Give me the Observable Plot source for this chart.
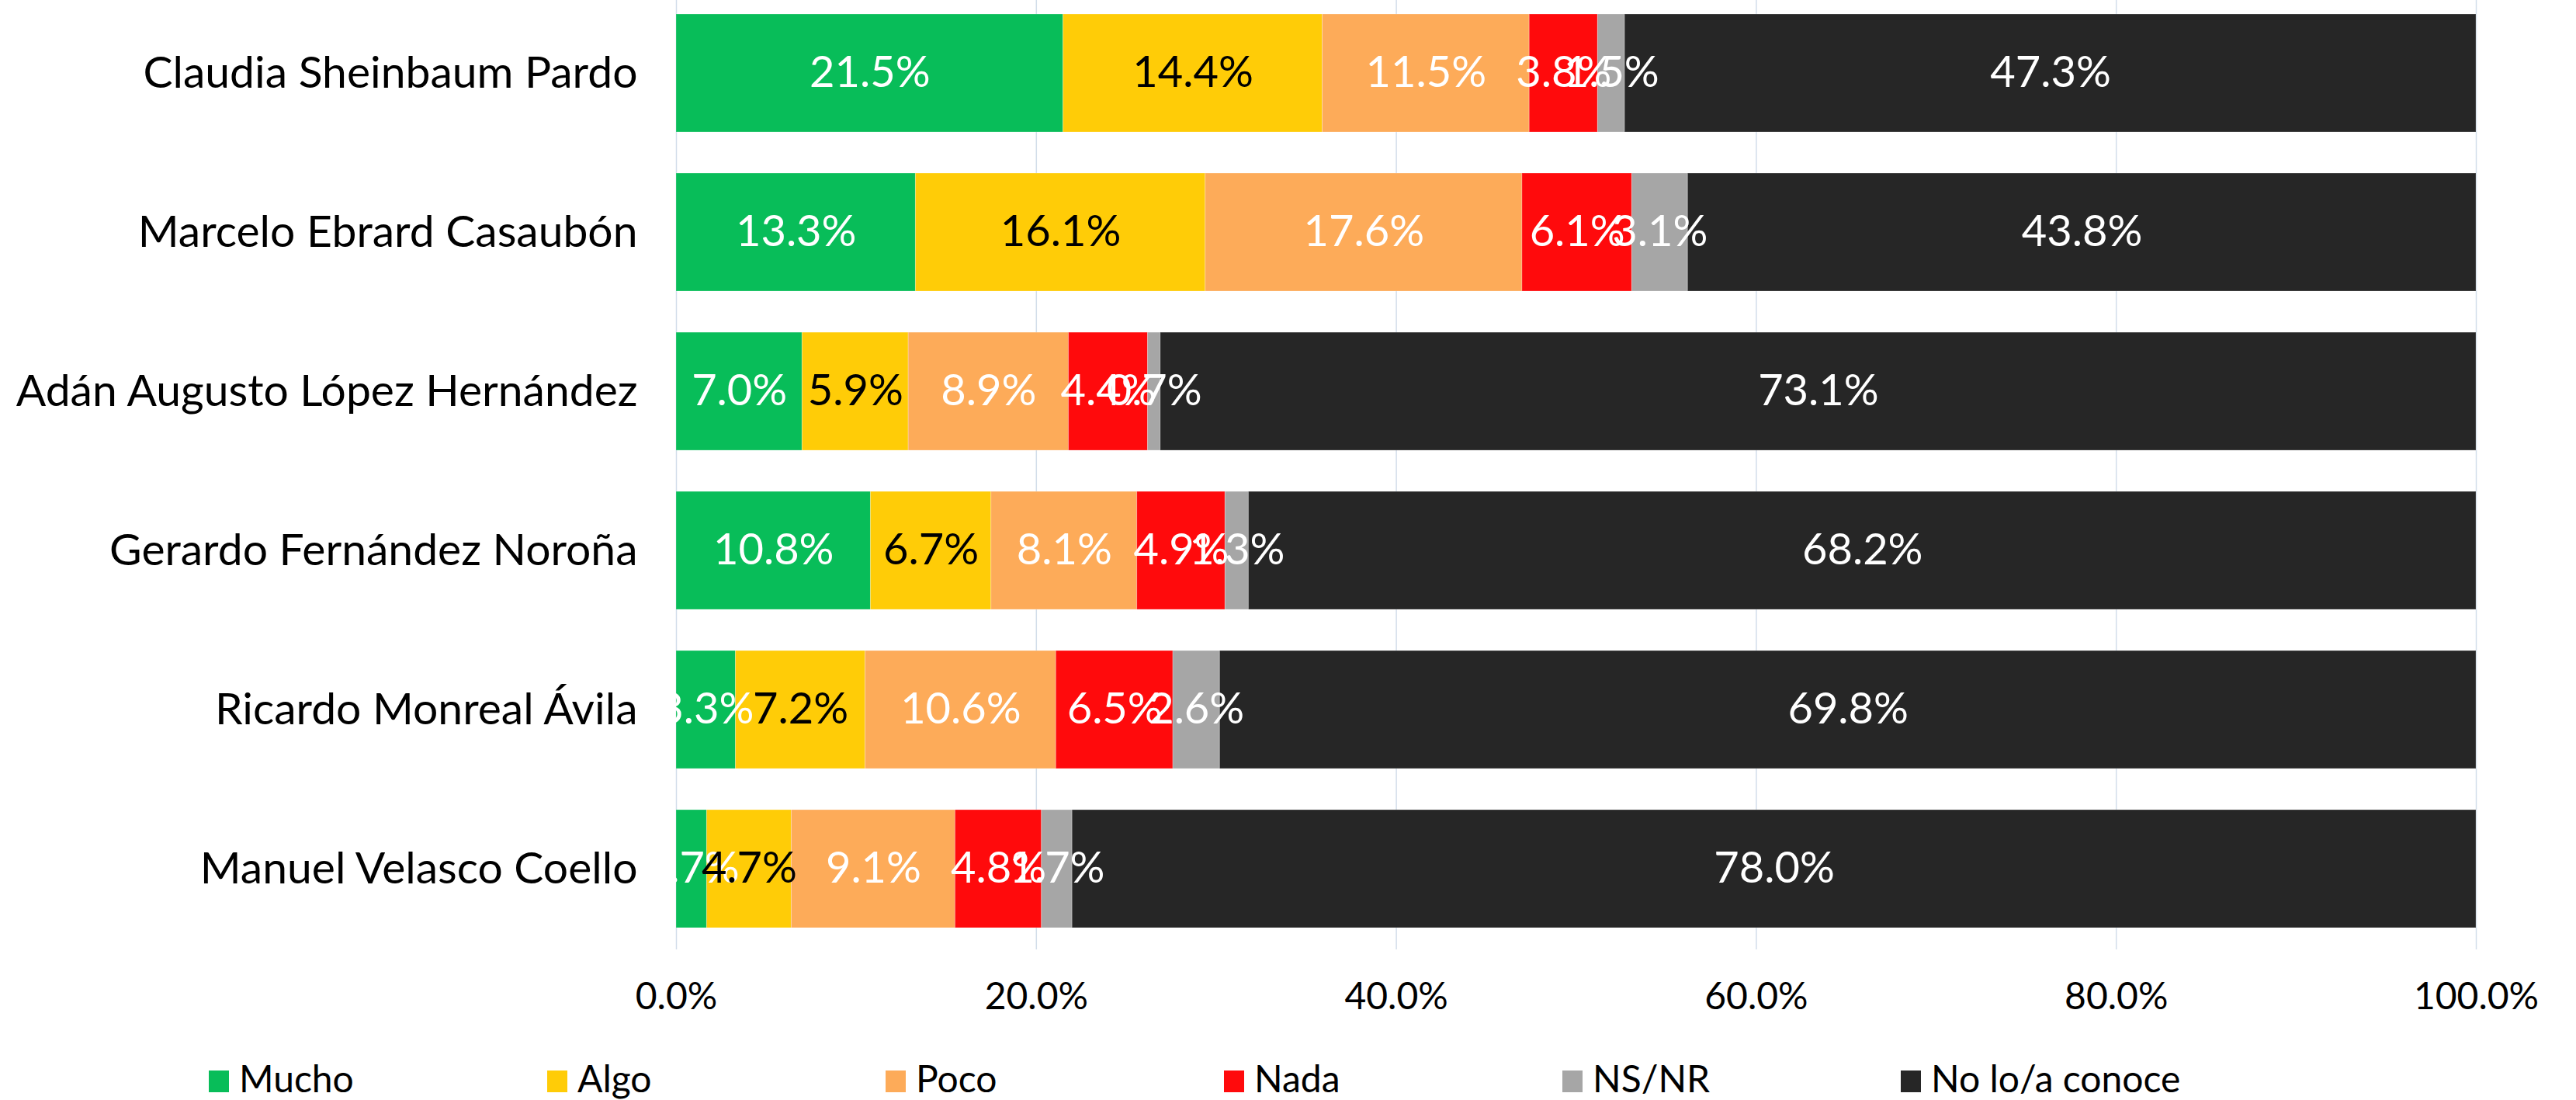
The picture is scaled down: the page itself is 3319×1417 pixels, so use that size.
<!DOCTYPE html>
<html>
<head>
<meta charset="utf-8">
<script src="https://cdn.jsdelivr.net/npm/d3@7"></script>
<script src="https://cdn.jsdelivr.net/npm/@observablehq/plot@0.6"></script>
<style>
  body { margin: 0; background: white; font-family: Lato, "Noto Sans", sans-serif; }
  #wrap { position: relative; width: 3319px; height: 1417px; }
  #legend { position: absolute; left: 269px; top: 1359px; display: flex; font-size: 48px; line-height: 60px; color: #000; white-space: nowrap; }
  .item { width: 436px; }
  .sw { display: inline-block; width: 26px; height: 28px; margin-right: 13px; vertical-align: baseline; }
</style>
</head>
<body>
<div id="wrap"><div id="chart"></div><div id="legend"></div></div>
<script>
const candidates = [
  "Claudia Sheinbaum Pardo",
  "Marcelo Ebrard Casaubón",
  "Adán Augusto López Hernández",
  "Gerardo Fernández Noroña",
  "Ricardo Monreal Ávila",
  "Manuel Velasco Coello"
];
const categories = ["Mucho", "Algo", "Poco", "Nada", "NS/NR", "No lo/a conoce"];
const mucho   = [21.5, 13.3, 7.0, 10.8, 3.3, 1.7];
const algo    = [14.4, 16.1, 5.9, 6.7, 7.2, 4.7];
const poco    = [11.5, 17.6, 8.9, 8.1, 10.6, 9.1];
const nada    = [3.8, 6.1, 4.4, 4.9, 6.5, 4.8];
const nsnr    = [1.5, 3.1, 0.7, 1.3, 2.6, 1.7];
const noConoce = [47.3, 43.8, 73.1, 68.2, 69.8, 78.0];
const xTicks = [0, 20, 40, 60, 80, 100];
const colors = ["#08BD59", "#FFCC07", "#FDAB59", "#FF0A0C", "#A6A6A6", "#262626"];

const series = [mucho, algo, poco, nada, nsnr, noConoce];
const rows = [];
candidates.forEach((name, i) => {
  categories.forEach((cat, j) => rows.push({name, cat, value: series[j][i]}));
});
const fmt = v => v.toFixed(1) + "%";

const chart = Plot.plot({
  width: 3319,
  height: 1330,
  marginLeft: 871,
  marginRight: 129,
  marginTop: 0,
  marginBottom: 107,
  style: {fontFamily: "Lato, 'Noto Sans', sans-serif", fontSize: "48px", color: "#000", background: "white"},
  x: {domain: [0, 100]},
  y: {domain: candidates, range: [-10, 1223], paddingInner: 0.26, paddingOuter: 0.13},
  color: {domain: categories, range: colors},
  marks: [
    Plot.gridX(xTicks, {stroke: "#D2DDEA", strokeOpacity: 1, strokeWidth: 1.5}),
    Plot.barX(rows, {x: "value", y: "name", fill: "cat", z: "cat", stroke: "white", strokeOpacity: 0.25, strokeWidth: 1}),
    Plot.text(rows, Plot.stackX({x: "value", y: "name", z: "cat", text: d => d.cat === "Algo" ? "" : fmt(d.value), fill: "white", fontSize: 56})),
    Plot.text(rows, Plot.stackX({x: "value", y: "name", z: "cat", text: d => d.cat === "Algo" ? fmt(d.value) : "", fill: "black", fontSize: 56})),
    Plot.axisX({ticks: xTicks, tickFormat: fmt, tickSize: 0, tickPadding: 42, fontSize: 48, label: null}),
    Plot.axisY({tickSize: 0, tickPadding: 50, fontSize: 57, label: null})
  ]
});
document.getElementById("chart").appendChild(chart);

const legend = document.getElementById("legend");
categories.forEach((c, i) => {
  const item = document.createElement("div");
  item.className = "item";
  const sw = document.createElement("span");
  sw.className = "sw";
  sw.style.background = colors[i];
  item.appendChild(sw);
  item.appendChild(document.createTextNode(c));
  legend.appendChild(item);
});
</script>
</body>
</html>
